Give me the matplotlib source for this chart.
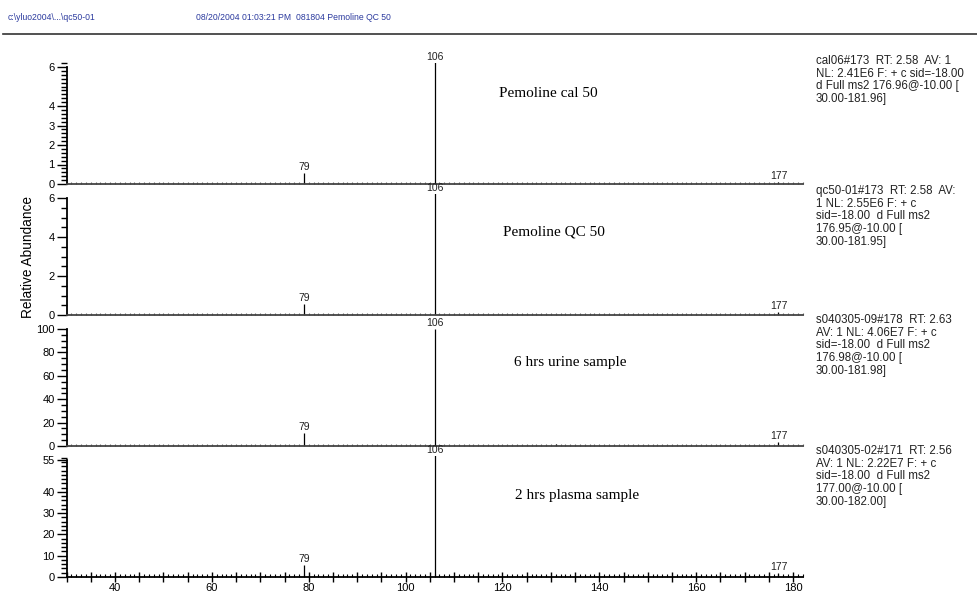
import numpy as np
import matplotlib
matplotlib.use("Agg")
import matplotlib.pyplot as plt
from matplotlib.lines import Line2D
from matplotlib.ticker import MultipleLocator, FixedLocator, FuncFormatter

plt.rcParams['font.family'] = ['Liberation Sans', 'DejaVu Sans']

# ================= data =================
masses = [79, 106, 131, 177]
labeled = [79, 106, 177]

heights_cal = [0.56, 100, 0.0, 0.10]
heights_qc = [0.57, 100, 0.0, 0.15]
heights_urine = [11.5, 100, 2.0, 3.2]
heights_plasma = [5.6, 100, 0.0, 1.9]

titles = ["Pemoline cal 50", "Pemoline QC 50", "6 hrs urine sample", "2 hrs plasma sample"]

y_tops = [6, 6, 100, 55]
y_major = [[0, 1, 2, 3, 4, 6], [0, 2, 4, 6], [0, 20, 40, 60, 80, 100], [0, 10, 20, 30, 40, 55]]
y_minor = [0.2, 0.5, 5, 2]

scan_info = [
    "cal06#173  RT: 2.58  AV: 1\nNL: 2.41E6 F: + c sid=-18.00\nd Full ms2 176.96@-10.00 [\n30.00-181.96]",
    "qc50-01#173  RT: 2.58  AV:\n1 NL: 2.55E6 F: + c\nsid=-18.00  d Full ms2\n176.95@-10.00 [\n30.00-181.95]",
    "s040305-09#178  RT: 2.63\nAV: 1 NL: 4.06E7 F: + c\nsid=-18.00  d Full ms2\n176.98@-10.00 [\n30.00-181.98]",
    "s040305-02#171  RT: 2.56\nAV: 1 NL: 2.22E7 F: + c\nsid=-18.00  d Full ms2\n177.00@-10.00 [\n30.00-182.00]",
]

header = ["c:\\yluo2004\\...\\qc50-01", "08/20/2004 01:03:21 PM", "081804 Pemoline QC 50"]

x_range = (30, 182)

# ================= layout (pixels) =================
W, H = 978, 598
baselines = [184, 315, 446, 577]
panel_h = 121
title_x = [129.4, 130.6, 134.0, 135.4]
title_y = [0.75, 0.69, 0.69, 0.67]
info_top = [55, 185, 314, 445]

fig = plt.figure(figsize=(W / 100, H / 100), dpi=100)

all_heights = [heights_cal, heights_qc, heights_urine, heights_plasma]

for i in range(4):
    ax = fig.add_axes([66.6 / W, 1 - baselines[i] / H, (802.7 - 66.6) / W, panel_h / H])
    ytop = y_tops[i]
    ymax = ytop * panel_h / 117.0
    ax.set_xlim(*x_range)
    ax.set_ylim(0, ymax)

    ax.vlines(masses, 0, all_heights[i], color='black', lw=0.9)
    for m, h in zip(masses, all_heights[i]):
        if m in labeled:
            ax.annotate(str(m), xy=(m, min(h, ymax)), xytext=(0, 2.0), textcoords='offset points',
                        ha='center', va='baseline', fontsize=7.5, color='#222222', annotation_clip=False)

    ax.text(title_x[i], title_y[i], titles[i], transform=ax.get_xaxis_transform(),
            ha='center', va='center', fontsize=11, family='Liberation Serif')

    for s in ['top', 'right']:
        ax.spines[s].set_visible(False)
    ax.spines['left'].set_bounds(0, ytop)
    ax.spines['left'].set_linewidth(1.3)
    ax.spines['left'].set_color('black')
    ax.spines['bottom'].set_linewidth(1.3)
    ax.spines['bottom'].set_color('#444444' if i < 3 else 'black')

    ax.yaxis.set_major_locator(FixedLocator(y_major[i]))
    ax.yaxis.set_minor_locator(MultipleLocator(y_minor[i]))
    ax.tick_params(axis='y', which='major', length=7, width=1.0, labelsize=8, pad=1.5)
    ax.tick_params(axis='y', which='minor', length=4.5, width=1.0)

    if i < 3:
        ax.xaxis.set_major_locator(MultipleLocator(1))
        ax.tick_params(axis='x', which='major', direction='in', length=1.8, width=0.8,
                       color='#666666', labelbottom=False)
    else:
        ax.xaxis.set_major_locator(MultipleLocator(5))
        ax.xaxis.set_minor_locator(MultipleLocator(1))
        ax.xaxis.set_major_formatter(FuncFormatter(lambda v, p: "%d" % v if v % 20 == 0 else ""))
        ax.tick_params(axis='x', which='major', direction='inout', length=7, width=1.0, labelsize=8, pad=1)
        ax.tick_params(axis='x', which='minor', direction='in', length=2.5, width=0.8)

    fig.text(816 / W, 1 - info_top[i] / H, scan_info[i], ha='left', va='top',
             fontsize=8.3, linespacing=1.08, color='#222222')

fig.text(28 / W, 1 - 257 / H, "Relative Abundance", rotation=90, ha='center', va='center', fontsize=9.8)

hdr_x = [8, 196, 296]
for t, xx in zip(header, hdr_x):
    fig.text(xx / W, 1 - 17 / H, t, ha='left', va='center', fontsize=6.2, color='#2b3a9e')
fig.add_artist(Line2D([3 / W, 1.0], [1 - 34 / H] * 2, transform=fig.transFigure, color='#333333', lw=1.2))

fig.savefig("out.png", dpi=100)
